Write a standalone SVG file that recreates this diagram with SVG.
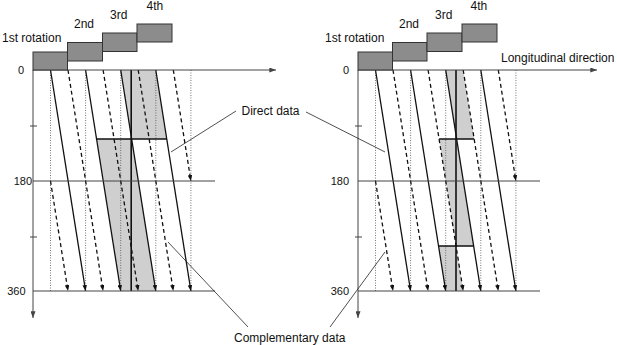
<svg xmlns="http://www.w3.org/2000/svg" width="617" height="345" viewBox="0 0 617 345">
<style>
  text { font-family: "Liberation Sans", Arial, sans-serif; font-size: 12px; fill: #111; }
  .num { font-size: 11px; }
  .box { fill: #8c8c8c; stroke: #333; stroke-width: 1; }
  .shade { fill: #cfcfcf; stroke: none; }
  .dot { stroke: #555; stroke-width: 0.8; stroke-dasharray: 1 1.5; fill: none; }
  .sol { stroke: #111; stroke-width: 1.3; fill: none; marker-end: url(#arr); }
  .dash { stroke: #111; stroke-width: 1.3; fill: none; stroke-dasharray: 4 3; marker-end: url(#arr); }
  .axis { stroke: #444; stroke-width: 1; fill: none; }
  .axarr { stroke: #444; stroke-width: 1; fill: none; marker-end: url(#axarr); }
  .edge { stroke: #111; stroke-width: 1.3; fill: none; }
  .vert { stroke: #111; stroke-width: 1.6; fill: none; }
  .lead { stroke: #222; stroke-width: 0.8; fill: none; }
</style>
<defs>
  <marker id="arr" viewBox="0 0 8 6" refX="8" refY="3" markerWidth="6" markerHeight="4.5" markerUnits="userSpaceOnUse" orient="auto">
    <path d="M0,0 L8,3 L0,6 z" fill="#111"/>
  </marker>
  <marker id="axarr" viewBox="0 0 8 6" refX="8" refY="3" markerWidth="7" markerHeight="5" markerUnits="userSpaceOnUse" orient="auto">
    <path d="M0,0 L8,3 L0,6 z" fill="#444"/>
  </marker>
  <g id="panel-lines">
    <path class="dot" d="M50.5,70V291 M85.6,70V291 M120.7,70V291 M155.8,70V291 M190.9,70V291"/>
    <path class="sol" d="M50.5,70 L85.6,291"/>
    <path class="sol" d="M85.6,70 L120.7,291"/>
    <path class="sol" d="M120.7,70 L155.8,291"/>
    <path class="sol" d="M155.8,70 L190.9,291"/>
    <path class="dash" d="M68,70 L103.1,291"/>
    <path class="dash" d="M103.1,70 L138.2,291"/>
    <path class="dash" d="M138.2,70 L173.3,291"/>
    <path class="dash" d="M173.3,70 L190.9,181"/>
    <path class="dash" d="M50.5,181 L68,291"/>
  </g>
</defs>

<g id="left-panel">
  <g id="left-shading">
    <polygon class="shade" points="120.7,70 155.8,70 166.8,139 131.7,139"/>
    <polygon class="shade" points="96.6,139 131.7,139 155.8,291 120.7,291"/>
  </g>
  <use href="#panel-lines"/>
  <path class="vert" d="M131.2,70V291"/>
  <path class="edge" d="M96.6,139H166.8"/>
  <g id="left-axes">
    <path class="axarr" d="M33,70H276"/>
    <path class="axarr" d="M33,70V318"/>
    <path class="axis" d="M33,181H215 M33,291H215 M30,126H37 M30,237H37"/>
  </g>
  <g id="left-rotations">
    <rect class="box" x="33" y="52" width="34.5" height="18"/>
    <rect class="box" x="67.5" y="42.5" width="35" height="18.5"/>
    <rect class="box" x="102.5" y="33" width="34.5" height="18.5"/>
    <rect class="box" x="137" y="24" width="35" height="18"/>
  </g>
  <text x="2" y="42">1st rotation</text>
  <text x="74" y="27.5">2nd</text>
  <text x="110" y="18.5">3rd</text>
  <text x="146.5" y="10">4th</text>
  <text class="num" x="24" y="74" text-anchor="end">0</text>
  <text class="num" x="32" y="185" text-anchor="end">180</text>
  <text class="num" x="25.5" y="295" text-anchor="end">360</text>
</g>

<g id="right-panel">
  <g id="right-shading">
    <polygon class="shade" points="445.7,70 463.2,70 474.2,139 456.7,139"/>
    <polygon class="shade" points="439.1,139 456.7,139 473.7,246 456.1,246"/>
    <polygon class="shade" points="438.6,246 456.1,246 463.2,291 445.7,291"/>
  </g>
  <use href="#panel-lines" transform="translate(325,0)"/>
  <path class="vert" d="M456,70V291"/>
  <path class="edge" d="M439.1,139H474.2 M438.6,246H473.7"/>
  <g id="right-axes">
    <path class="axarr" d="M358,70H597"/>
    <path class="axarr" d="M358,70V318"/>
    <path class="axis" d="M358,181H540 M358,291H540 M355,126H362 M355,237H362"/>
  </g>
  <g id="right-rotations">
    <rect class="box" x="358" y="52" width="34.5" height="18"/>
    <rect class="box" x="392.5" y="42.5" width="34.5" height="18.5"/>
    <rect class="box" x="427" y="33" width="35" height="18.5"/>
    <rect class="box" x="462" y="24" width="35" height="18"/>
  </g>
  <text x="325" y="42">1st rotation</text>
  <text x="399" y="27.5">2nd</text>
  <text x="435" y="18.5">3rd</text>
  <text x="470.5" y="10">4th</text>
  <text x="501" y="62">Longitudinal direction</text>
  <text class="num" x="349" y="74" text-anchor="end">0</text>
  <text class="num" x="349" y="185" text-anchor="end">180</text>
  <text class="num" x="349" y="295" text-anchor="end">360</text>
</g>

<g id="direct-data">
  <text x="241.5" y="115">Direct data</text>
</g>
<g id="complementary-data">
  <text x="234" y="342">Complementary data</text>
</g>

<g id="connectors">
  <path class="lead" d="M236,111 L171,152"/>
  <path class="lead" d="M306,112 L385,152"/>
  <path class="lead" d="M248,327 L168,242"/>
  <path class="lead" d="M330,327 L385,252"/>
</g>
</svg>
